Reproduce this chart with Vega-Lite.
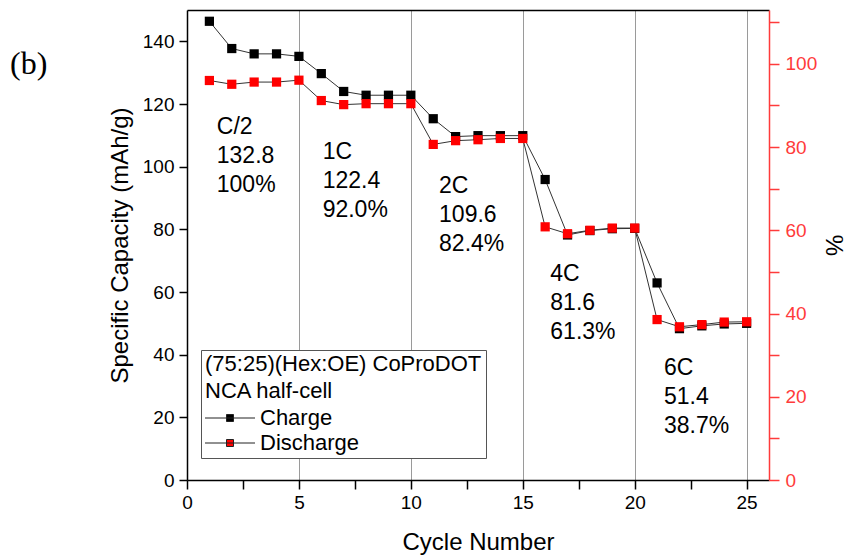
{
  "$schema": "https://vega.github.io/schema/vega-lite/v6.json",
  "autosize": {"type": "none"},
  "padding": {"left": 187, "top": 10, "right": 81, "bottom": 80},
  "width": 582,
  "height": 470,
  "background": "white",
  "title": {
    "text": "(b)",
    "orient": "top",
    "anchor": "start",
    "frame": "group",
    "font": "Liberation Serif",
    "fontSize": 32,
    "fontWeight": "normal",
    "color": "#000000",
    "baseline": "middle",
    "offset": 0,
    "dx": -177,
    "dy": 87
  },
  "config": {
    "view": {"stroke": null},
    "font": "Liberation Sans",
    "axis": {
      "labelFont": "Liberation Sans",
      "titleFont": "Liberation Sans",
      "labelColor": "#000000",
      "titleColor": "#000000",
      "domainColor": "#000000",
      "tickColor": "#000000",
      "labelFontSize": 19,
      "titleFontSize": 24,
      "titleFontWeight": "normal",
      "domainWidth": 1.5,
      "tickWidth": 1.5,
      "labelOverlap": false,
      "labelFlush": false,
      "grid": false
    }
  },
  "datasets": {
    "cycles": [
      {"cycle": 1, "series": "Charge", "capacity": 146.4},
      {"cycle": 2, "series": "Charge", "capacity": 137.7},
      {"cycle": 3, "series": "Charge", "capacity": 136.0},
      {"cycle": 4, "series": "Charge", "capacity": 136.0},
      {"cycle": 5, "series": "Charge", "capacity": 135.2},
      {"cycle": 6, "series": "Charge", "capacity": 129.7},
      {"cycle": 7, "series": "Charge", "capacity": 124.0},
      {"cycle": 8, "series": "Charge", "capacity": 122.8},
      {"cycle": 9, "series": "Charge", "capacity": 122.8},
      {"cycle": 10, "series": "Charge", "capacity": 122.8},
      {"cycle": 11, "series": "Charge", "capacity": 115.3},
      {"cycle": 12, "series": "Charge", "capacity": 109.6},
      {"cycle": 13, "series": "Charge", "capacity": 109.9},
      {"cycle": 14, "series": "Charge", "capacity": 109.9},
      {"cycle": 15, "series": "Charge", "capacity": 109.9},
      {"cycle": 16, "series": "Charge", "capacity": 95.9},
      {"cycle": 17, "series": "Charge", "capacity": 78.2},
      {"cycle": 18, "series": "Charge", "capacity": 79.6},
      {"cycle": 19, "series": "Charge", "capacity": 80.2},
      {"cycle": 20, "series": "Charge", "capacity": 80.3},
      {"cycle": 21, "series": "Charge", "capacity": 62.9},
      {"cycle": 22, "series": "Charge", "capacity": 48.3},
      {"cycle": 23, "series": "Charge", "capacity": 49.2},
      {"cycle": 24, "series": "Charge", "capacity": 49.8},
      {"cycle": 25, "series": "Charge", "capacity": 50.0},
      {"cycle": 1, "series": "Discharge", "capacity": 127.5},
      {"cycle": 2, "series": "Discharge", "capacity": 126.3},
      {"cycle": 3, "series": "Discharge", "capacity": 127.0},
      {"cycle": 4, "series": "Discharge", "capacity": 127.0},
      {"cycle": 5, "series": "Discharge", "capacity": 127.6},
      {"cycle": 6, "series": "Discharge", "capacity": 121.1},
      {"cycle": 7, "series": "Discharge", "capacity": 119.8},
      {"cycle": 8, "series": "Discharge", "capacity": 120.1},
      {"cycle": 9, "series": "Discharge", "capacity": 120.1},
      {"cycle": 10, "series": "Discharge", "capacity": 120.1},
      {"cycle": 11, "series": "Discharge", "capacity": 107.1},
      {"cycle": 12, "series": "Discharge", "capacity": 108.3},
      {"cycle": 13, "series": "Discharge", "capacity": 108.6},
      {"cycle": 14, "series": "Discharge", "capacity": 109.0},
      {"cycle": 15, "series": "Discharge", "capacity": 109.0},
      {"cycle": 16, "series": "Discharge", "capacity": 80.8},
      {"cycle": 17, "series": "Discharge", "capacity": 78.6},
      {"cycle": 18, "series": "Discharge", "capacity": 79.7},
      {"cycle": 19, "series": "Discharge", "capacity": 80.4},
      {"cycle": 20, "series": "Discharge", "capacity": 80.4},
      {"cycle": 21, "series": "Discharge", "capacity": 51.2},
      {"cycle": 22, "series": "Discharge", "capacity": 48.9},
      {"cycle": 23, "series": "Discharge", "capacity": 49.6},
      {"cycle": 24, "series": "Discharge", "capacity": 50.4},
      {"cycle": 25, "series": "Discharge", "capacity": 50.5}
    ],
    "rates": [
      {"rate": "C/2", "capacity": 132.8, "retention": 100.0, "at_cycle": 1.33, "at_capacity": 116.1, "note": "C/2\n132.8\n100%"},
      {"rate": "1C", "capacity": 122.4, "retention": 92.0, "at_cycle": 6.06, "at_capacity": 108.1, "note": "1C\n122.4\n92.0%"},
      {"rate": "2C", "capacity": 109.6, "retention": 82.4, "at_cycle": 11.26, "at_capacity": 97.5, "note": "2C\n109.6\n82.4%"},
      {"rate": "4C", "capacity": 81.6, "retention": 61.3, "at_cycle": 16.23, "at_capacity": 69.3, "note": "4C\n81.6\n61.3%"},
      {"rate": "6C", "capacity": 51.4, "retention": 38.7, "at_cycle": 21.31, "at_capacity": 39.4, "note": "6C\n51.4\n38.7%"}
    ]
  },
  "layer": [
    {
      "layer": [
        {
          "data": {"name": "cycles"},
          "mark": {"type": "line", "color": "#333333", "strokeWidth": 1},
          "encoding": {
            "x": {
              "field": "cycle",
              "type": "quantitative",
              "scale": {"domain": [0, 26], "nice": false, "zero": false},
              "axis": {
                "orient": "bottom",
                "title": "Cycle Number",
                "values": [0, 2.5, 5, 7.5, 10, 12.5, 15, 17.5, 20, 22.5, 25],
                "labelExpr": "datum.value % 5 === 0 ? format(datum.value, 'd') : ''",
                "tickSize": 9,
                "labelPadding": 4,
                "titlePadding": 18,
                "grid": true,
                "gridColor": "#9a9a9a",
                "gridWidth": 1,
                "gridOpacity": {"condition": {"test": "datum.value % 5 === 0 && datum.value > 0", "value": 1}, "value": 0},
                "encode": {"ticks": {"y2": {"condition": {"test": "datum.value % 5 === 0", "value": 9}, "value": 6}}}
              }
            },
            "y": {
              "field": "capacity",
              "type": "quantitative",
              "scale": {"domain": [0, 150], "nice": false},
              "axis": {
                "orient": "left",
                "title": "Specific Capacity (mAh/g)",
                "values": [0, 10, 20, 30, 40, 50, 60, 70, 80, 90, 100, 110, 120, 130, 140],
                "labelExpr": "datum.value % 20 === 0 ? datum.label : ''",
                "tickSize": 8,
                "labelPadding": 5,
                "titlePadding": 10,
                "encode": {"ticks": {"x2": {"condition": {"test": "datum.value % 20 === 0", "value": -8}, "value": -4}}}
              }
            },
            "detail": {"field": "series", "type": "nominal"}
          }
        },
        {
          "data": {"name": "cycles"},
          "mark": {"type": "point", "shape": "square", "filled": true, "size": 85, "opacity": 1},
          "encoding": {
            "x": {"field": "cycle", "type": "quantitative"},
            "y": {"field": "capacity", "type": "quantitative"},
            "color": {
              "field": "series",
              "type": "nominal",
              "scale": {"domain": ["Charge", "Discharge"], "range": ["#000000", "#ff0000"]},
              "legend": {
                "orient": "none",
                "legendX": 14,
                "legendY": 340,
                "title": ["(75:25)(Hex:OE) CoProDOT", "NCA half-cell"],
                "titleFont": "Liberation Sans",
                "titleFontSize": 22,
                "titleFontWeight": "normal",
                "titleColor": "#000000",
                "titleLineHeight": 27,
                "titlePadding": 4,
                "titleLimit": 500,
                "labelFont": "Liberation Sans",
                "labelFontSize": 22,
                "labelColor": "#000000",
                "labelLimit": 300,
                "labelOffset": 19,
                "symbolType": "M-5,0H5M-0.7,-0.7H0.7V0.7H-0.7Z",
                "symbolSize": 100,
                "symbolOffset": 14,
                "symbolStrokeColor": "#222222",
                "symbolStrokeWidth": 1,
                "rowPadding": 3,
                "padding": 4,
                "strokeColor": "#555555",
                "fillColor": "#ffffff"
              }
            }
          }
        },
        {
          "data": {"name": "rates"},
          "mark": {"type": "text", "align": "left", "baseline": "top", "font": "Liberation Sans", "fontSize": 23, "lineHeight": 29, "lineBreak": "\n", "color": "#000000"},
          "encoding": {
            "x": {"field": "at_cycle", "type": "quantitative"},
            "y": {"field": "at_capacity", "type": "quantitative"},
            "text": {"field": "note", "type": "nominal"}
          }
        }
      ]
    },
    {
      "data": {"name": "rates"},
      "mark": {"type": "point", "opacity": 0},
      "encoding": {
        "x": {
          "field": "at_cycle",
          "type": "quantitative",
          "axis": {
            "orient": "top",
            "title": null,
            "labels": false,
            "values": [0, 2.5, 5, 7.5, 10, 12.5, 15, 17.5, 20, 22.5, 25],
            "tickSize": 0,
            "encode": {"ticks": {"y2": {"condition": {"test": "datum.value % 5 === 0", "value": 8}, "value": 5}}}
          }
        },
        "y": {
          "field": "retention",
          "type": "quantitative",
          "scale": {"domain": [0, 112.95], "nice": false},
          "axis": {
            "orient": "right",
            "title": "%",
            "values": [0, 10, 20, 30, 40, 50, 60, 70, 80, 90, 100, 110],
            "labelExpr": "datum.value % 20 === 0 ? datum.label : ''",
            "domainColor": "#ff3b3b",
            "tickColor": "#ff3b3b",
            "labelColor": "#ff3b3b",
            "tickSize": 10,
            "labelPadding": 6,
            "titlePadding": 4,
            "encode": {"ticks": {"x2": {"condition": {"test": "datum.value % 20 === 0", "value": 10}, "value": 5}}}
          }
        }
      }
    }
  ],
  "resolve": {"scale": {"y": "independent"}, "axis": {"x": "independent"}}
}
